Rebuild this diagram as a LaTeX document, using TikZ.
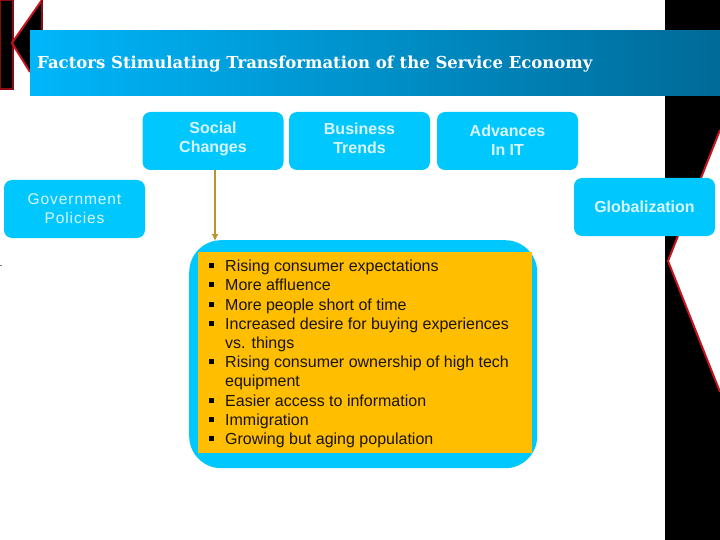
\documentclass[tikz,border=0pt]{standalone}
\usepackage{fontspec}
\setmainfont{Liberation Sans}
\newfontfamily\titlefont{DejaVu Serif}
\usetikzlibrary{arrows.meta}
\definecolor{skyb}{HTML}{00C8FF}
\definecolor{orng}{HTML}{FFBE00}
\definecolor{gold}{HTML}{B8962E}
\definecolor{redl}{HTML}{C8141E}
\definecolor{redd}{HTML}{8E0A14}
\definecolor{hl}{HTML}{00B6FA}
\definecolor{hr}{HTML}{006A98}
\definecolor{ltxt}{HTML}{D8F6FF}
\definecolor{itxt}{HTML}{1A1408}
\tikzset{
  x=1pt,y=-1pt,
  pill/.style={fill=skyb,draw=none,rounded corners=8pt,minimum width=141pt,minimum height=58pt,inner sep=0pt,align=center,text=ltxt,font=\fontsize{16}{19}\selectfont\bfseries},
  redline/.style={draw=redl,line width=2pt,line join=miter},
  item/.style={anchor=base west,inner sep=0pt,text=itxt,font=\fontsize{16}{16}\selectfont},
  bul/.style={fill=black,minimum size=5pt,inner sep=0pt,draw=none}
}
\begin{document}
\begin{tikzpicture}
\useasboundingbox (0,0) rectangle (720,540);
\fill[white] (0,0) rectangle (720,540);
% right black band
\fill[black] (665,0) rectangle (720,540);
\fill[white] (720,130) -- (668,261) -- (720,392) -- cycle;
\draw[redline] (720,130) -- (668,261) -- (720,392);
% left K
\fill[black] (0,0) rectangle (13,89);
\draw[draw=redd,line width=2pt] (0,0) -- (12.5,0) -- (12.5,89) -- (0,89) -- cycle;
\fill[black] (12,43) -- (42,0) -- (42,40) -- (30,40) -- (30,72) -- cycle;
\draw[redline] (42,0) -- (12,43) -- (30,72);
\draw[draw=redd,line width=1.6pt] (42,0) -- (42,31);
% stray mark at the left edge
\draw[draw=gray,line width=0.8pt] (0,265) -- (2,265);
% header
\node[anchor=north west,minimum width=690pt,minimum height=65.5pt,inner sep=0pt,left color=hl,right color=hr,draw=none] (hdr) at (30,30) {};
\node[anchor=base west,inner sep=0pt,text=white,font=\titlefont\bfseries\fontsize{16.5}{20}\selectfont] (title) at (37,69) {Factors Stimulating Transformation of the Service Economy};
% top boxes
\node[pill,text depth=7.4pt] (social) at (213,141) {Social\\Changes};
\node[pill,text depth=6pt] (business) at (359.5,141) {Business\\Trends};
\node[pill,text depth=2pt] (advances) at (507.5,141) {Advances\\In IT};
\node[pill,font=\fontsize{15.5}{19}\selectfont] (gov) at (74.5,209) {\addfontfeature{LetterSpace=6}Government\\\addfontfeature{LetterSpace=6}Policies};
\node[pill] (glob) at (644.5,207) {Globalization};
% big panel
\node[anchor=north west,fill=skyb,draw=none,rounded corners=32pt,minimum width=348pt,minimum height=228pt,inner sep=0pt] (panel) at (189,240) {};
\node[anchor=north west,fill=orng,draw=none,minimum width=334pt,minimum height=201pt,inner sep=0pt] (list) at (198,252) {};
\draw[gold,line width=1.4pt,-{Latex[length=7pt,width=7pt]}] (social.south -| 215,0) -- (215,241);
% list
\foreach \y/\t in {271/Rising consumer expectations,290/More affluence,310/More people short of time,329/Increased desire for buying experiences,348/vs. things,367/Rising consumer ownership of high tech,386/equipment,406/Easier access to information,425/Immigration,444/Growing but aging population}{
  \node[item] at (225,\y) {\t};
}
\foreach \y in {265,284,304,323,361,400,419,438}{
  \node[bul] at (211,\y) {};
}
\end{tikzpicture}
\end{document}
